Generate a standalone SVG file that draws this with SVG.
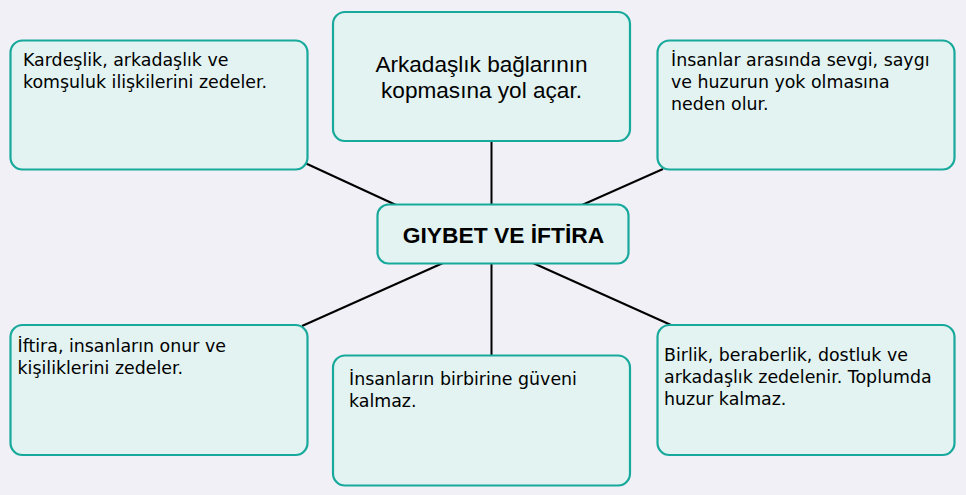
<svg xmlns="http://www.w3.org/2000/svg" width="966" height="495" viewBox="0 0 966 495">
<style>
.bg{fill:#f2f0f7}
.box{fill:#e2f3f1;stroke:#17a99b;stroke-width:2.2}
.con line{stroke:#000;stroke-width:2}
.t{font-family:"DejaVu Sans",sans-serif;font-size:17.4px;fill:#000}
.a{font-family:"Liberation Sans",Arial,sans-serif;font-size:22.6px;fill:#000;text-anchor:middle}
.c{font-family:"Liberation Sans",Arial,sans-serif;font-size:22.8px;font-weight:bold;fill:#000;text-anchor:middle}
</style>
<rect class="bg" width="966" height="495"/>
<g id="connectors" class="con">
<line x1="305" y1="163" x2="396" y2="205"/>
<line x1="491.5" y1="141" x2="491.5" y2="205"/>
<line x1="582" y1="205" x2="663" y2="169"/>
<line x1="443" y1="263" x2="302" y2="326"/>
<line x1="491.5" y1="263" x2="491.5" y2="355"/>
<line x1="533" y1="263" x2="671" y2="325"/>
</g>
<g id="n-center">
<rect class="box" x="377.5" y="204.5" width="251" height="59" rx="11"/>
<text class="c" x="503.5" y="242.5">GIYBET VE İFTİRA</text>
</g>
<g id="n-tl">
<rect class="box" x="10.5" y="40.5" width="297" height="129" rx="12"/>
<text class="t" x="23" y="65.5">Kardeşlik, arkadaşlık ve</text>
<text class="t" x="23" y="87.5">komşuluk ilişkilerini zedeler.</text>
</g>
<g id="n-tc">
<rect class="box" x="333" y="12" width="297" height="129" rx="12"/>
<text class="a" x="481.5" y="72">Arkadaşlık bağlarının</text>
<text class="a" x="481.5" y="98">kopmasına yol açar.</text>
</g>
<g id="n-tr">
<rect class="box" x="657.5" y="40.5" width="297" height="129" rx="12"/>
<text class="t" x="671" y="66">İnsanlar arasında sevgi, saygı</text>
<text class="t" x="671" y="88">ve huzurun yok olmasına</text>
<text class="t" x="671" y="110">neden olur.</text>
</g>
<g id="n-bl">
<rect class="box" x="10.5" y="325" width="297" height="130" rx="12"/>
<text class="t" x="17.5" y="351.5">İftira, insanların onur ve</text>
<text class="t" x="17.5" y="373.5">kişiliklerini zedeler.</text>
</g>
<g id="n-bc">
<rect class="box" x="333" y="355.5" width="297" height="130" rx="12"/>
<text class="t" x="349" y="385">İnsanların birbirine güveni</text>
<text class="t" x="349" y="407">kalmaz.</text>
</g>
<g id="n-br">
<rect class="box" x="657.5" y="325" width="297" height="130" rx="12"/>
<text class="t" x="664" y="361">Birlik, beraberlik, dostluk ve</text>
<text class="t" x="664" y="383">arkadaşlık zedelenir. Toplumda</text>
<text class="t" x="664" y="405">huzur kalmaz.</text>
</g>
</svg>
